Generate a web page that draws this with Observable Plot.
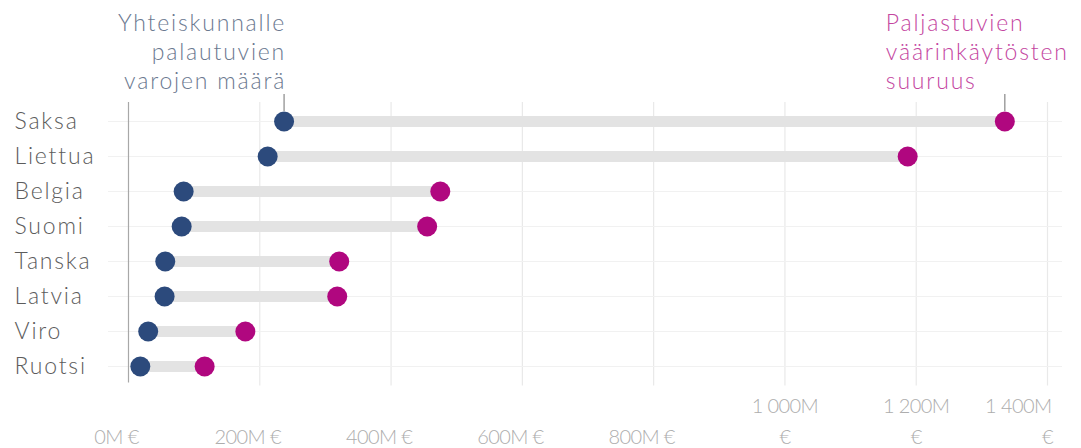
<!DOCTYPE html>
<html><head><meta charset="utf-8">
<script src="https://cdn.jsdelivr.net/npm/d3@7"></script>
<script src="https://cdn.jsdelivr.net/npm/@observablehq/plot@0.6"></script>
<style>body{margin:0;background:#fff;overflow:hidden;}</style>
</head><body><div id="chart"></div>
<script>
const countries = ["Saksa","Liettua","Belgia","Suomi","Tanska","Latvia","Viro","Ruotsi"];
const recovered = [237,212,84,81,56,55,30,18];     // M €, yhteiskunnalle palautuvat varat
const fraud = [1335,1187,475,455,321,318,178,116]; // M €, paljastuvat väärinkäytökset
const xTicks = [0,200,400,600,800,1000,1200,1400];
const xTickLabels = ["0M €","200M €","400M €","600M €","800M €","1\u00a0000M\n€","1\u00a0200M\n€","1\u00a0400M\n€"];
const annotLeft = "Yhteiskunnalle\npalautuvien\nvarojen määrä";
const annotRight = "Paljastuvien\nväärinkäytösten\nsuuruus";

const NAVY = "#2c4a7c", MAG = "#b0077f";
const rows = countries.map((c,i)=>({country:c, low:recovered[i], high:fraud[i]}));
const ticks = xTicks.map((x,i)=>({x, label:xTickLabels[i]}));
const single = ticks.filter(t=>!t.label.includes("\n"));
const maxTick = d3.max(xTicks);
const wrapped = ticks.filter(t=>t.label.includes("\n") && t.x!==maxTick);
const last = ticks.filter(t=>t.x===maxTick).map(t=>({x:t.x, l1:t.label.split("\n")[0], l2:t.label.split("\n")[1]}));
const first = rows.slice(0,1);

const FS = 23, TFS = 20, TC = "#adadad";
const chart = Plot.plot({
  width: 1081, height: 448,
  marginLeft: 128, marginRight: 34, marginTop: 102, marginBottom: 62.5,
  style: {fontFamily: "Lato, 'Open Sans', sans-serif", fontSize: FS+"px", background: "#fff"},
  x: {domain: [0, 1400], axis: null},
  y: {domain: countries, type: "point", padding: 0.5, axis: null},
  marks: [
    Plot.gridX(xTicks.filter(t=>t>0), {stroke: "#e9e9e9", strokeOpacity: 1, strokeWidth: 1.2}),
    Plot.ruleY(rows, {y: "country", stroke: "#f1f1f1", strokeWidth: 1.2, insetLeft: -20, insetRight: -15}),
    Plot.ruleX([0], {stroke: "#a8a8a8", strokeWidth: 1.2, insetBottom: 3}),
    Plot.ruleY(rows, {y: "country", x1: "low", x2: "high", stroke: "#e3e3e3", strokeWidth: 11}),
    Plot.dot(rows, {y: "country", x: "low", r: 10, fill: NAVY}),
    Plot.dot(rows, {y: "country", x: "high", r: 10, fill: MAG}),
    // annotation leader ticks
    Plot.ruleX(first, {x: "low", y1: "country", y2: "country", insetTop: -27, insetBottom: 10, stroke: "#888", strokeWidth: 1.2}),
    Plot.ruleX(first, {x: "high", y1: "country", y2: "country", insetTop: -27, insetBottom: 10, stroke: "#888", strokeWidth: 1.2}),
    Plot.text(first, {x: "low", y: "country", text: () => annotLeft, textAnchor: "end", lineAnchor: "bottom",
      lineHeight: 1.24, dy: -33, dx: 2, fill: "#6b7990", fontWeight: 300, fontSize: FS}),
    Plot.text(first, {x: "high", y: "country", text: () => annotRight, textAnchor: "start", lineAnchor: "bottom",
      lineHeight: 1.24, dy: -33, dx: -119, fill: "#c4469f", fontWeight: 300, fontSize: FS}),
    // row labels
    Plot.text(rows, {y: "country", text: "country", frameAnchor: "left", textAnchor: "start", dx: -114,
      fill: "#5c5c5c", fontWeight: 300, fontSize: FS}),
    // x tick labels
    Plot.text(single, {x: "x", text: "label", frameAnchor: "bottom", lineAnchor: "bottom", dy: 57.5, dx: -12,
      fill: TC, fontWeight: 300, fontSize: TFS}),
    Plot.text(wrapped, {x: "x", text: "label", frameAnchor: "bottom", lineAnchor: "bottom", dy: 57.5, lineHeight: 1.55,
      fill: TC, fontWeight: 300, fontSize: TFS}),
    Plot.text(last, {x: "x", text: "l2", frameAnchor: "bottom", lineAnchor: "bottom", dy: 57.5,
      fill: TC, fontWeight: 300, fontSize: TFS}),
    Plot.text(last, {x: "x", text: "l1", frameAnchor: "bottom", lineAnchor: "bottom", dy: 26.5, dx: 4, textAnchor: "end",
      fill: TC, fontWeight: 300, fontSize: TFS})
  ]
});
const textGroups = chart.querySelectorAll('g[aria-label="text"]');
textGroups.forEach((g, i) => { g.style.letterSpacing = i < 3 ? "1.8px" : "-0.6px"; });
document.getElementById("chart").append(chart);
</script>
</body></html>
